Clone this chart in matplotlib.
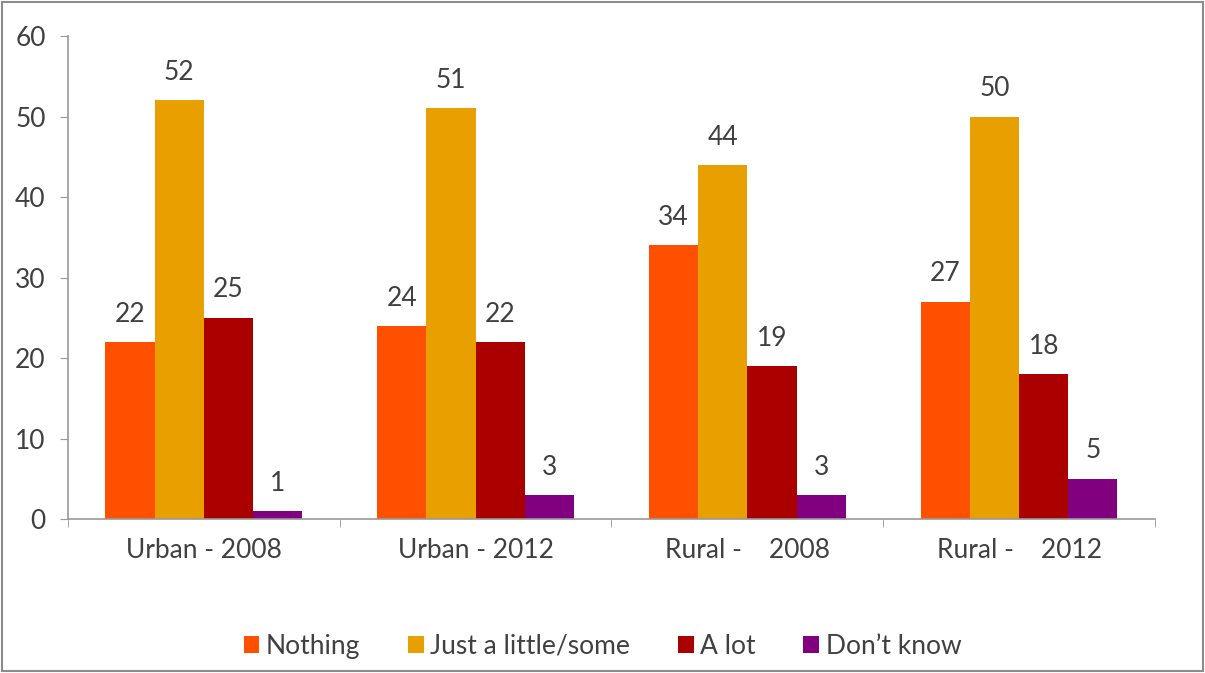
import numpy as np
import matplotlib as mpl
mpl.use('Agg')
import matplotlib.pyplot as plt
from matplotlib.patches import Rectangle

categories = ['Urban - 2008', 'Urban - 2012', 'Rural -    2008', 'Rural -    2012']
series = ['Nothing', 'Just a little/some', 'A lot', 'Don\u2019t know']
nothing = [22, 24, 34, 27]
just_some = [52, 51, 44, 50]
a_lot = [25, 22, 19, 18]
dont_know = [1, 3, 3, 5]
colors = ['#FF5000', '#E89F00', '#AA0000', '#800080']

plt.rcParams['font.family'] = ['Lato', 'DejaVu Sans']
txt = '#404040'
fs = 19

fig = plt.figure(figsize=(12.05, 6.73), dpi=100)
ax = fig.add_axes([0.0564, 0.2288, 0.9021, 0.7177])

x = np.arange(len(categories))
w = 0.181
for i, (vals, name) in enumerate(zip([nothing, just_some, a_lot, dont_know], series)):
    pos = x + (i - 1.5) * w
    ax.bar(pos, vals, width=w, color=colors[i], label=name, zorder=2)
    for p, v in zip(pos, vals):
        ax.text(p, v + 1.9, str(v), ha='center', va='bottom', fontsize=fs, color=txt)

ax.set_xlim(-0.5, len(categories) - 0.5)
ax.set_ylim(0, 60)
ax.set_yticks(range(0, 61, 10))
ax.set_xticks(x)
ax.set_xticklabels(categories)
ax.set_xticks(np.arange(-0.5, len(categories), 1), minor=True)
ax.tick_params(axis='x', which='major', length=0, pad=14, labelsize=fs, labelcolor=txt)
ax.tick_params(axis='x', which='minor', length=6, color='#999999', direction='out')
ax.tick_params(axis='y', length=6, color='#999999', labelsize=fs, labelcolor=txt, pad=10)
for s in ['top', 'right']:
    ax.spines[s].set_visible(False)
for s in ['left', 'bottom']:
    ax.spines[s].set_color('#999999')
    ax.spines[s].set_linewidth(1.2)

leg = fig.legend(loc='center', bbox_to_anchor=(0.5, 0.04), ncol=4, frameon=False,
                 fontsize=fs, handlelength=0.6, handleheight=0.6, handletextpad=0.25,
                 columnspacing=1.8)
for t in leg.get_texts():
    t.set_color(txt)

fig.patches.append(Rectangle((0.002, 0.003), 0.996, 0.994, transform=fig.transFigure,
                             fill=False, edgecolor='#8c8c8c', linewidth=1.5))

fig.savefig('out.png', dpi=100)
